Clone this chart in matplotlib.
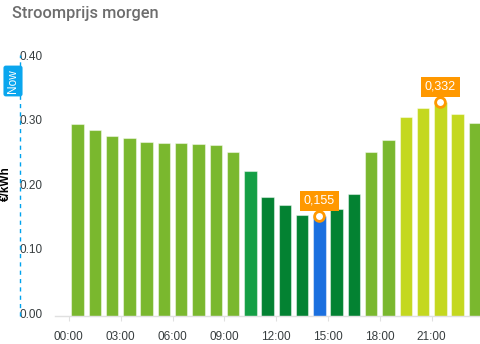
import matplotlib.pyplot as plt
from matplotlib.lines import Line2D
from matplotlib.transforms import ScaledTranslation

# Uurprijzen voor morgen (EUR/kWh), uur 0..23
hours = list(range(24))
prices = [0.298, 0.289, 0.280, 0.276, 0.270, 0.268, 0.268, 0.267, 0.265, 0.255,
          0.225, 0.185, 0.173, 0.157, 0.155, 0.166, 0.189, 0.254, 0.274, 0.309,
          0.323, 0.332, 0.313, 0.299]
tick_hours = [0, 3, 6, 9, 12, 15, 18, 21]
tick_labels = ["00:00", "03:00", "06:00", "09:00", "12:00", "15:00", "18:00", "21:00"]
y_ticks = [0.0, 0.1, 0.2, 0.3, 0.4]
y_tick_labels = ["0.00", "0.10", "0.20", "0.30", "0.40"]


def bar_color(v):
    if v > 0.30:
        return "#c4d81f"
    if v > 0.23:
        return "#7ab82e"
    if v > 0.20:
        return "#149f45"
    return "#038232"


min_idx = prices.index(min(prices))
max_idx = prices.index(max(prices))
colors = [bar_color(v) for v in prices]
colors[min_idx] = "#1a6fdf"

fig = plt.figure(figsize=(4.81, 3.44), dpi=100)
ax = fig.add_axes([55 / 481, 1 - 316 / 344, 1 - 55 / 481, (316 - 58.4) / 344])

x = [h + 0.5 for h in hours]
ax.bar(x, prices, width=0.72, color=colors, edgecolor=(1, 1, 1, 0.45), linewidth=0.8)

ax.set_xlim(-0.8, 23.85)
ax.set_ylim(0, 0.40)

for s in ["top", "right", "left"]:
    ax.spines[s].set_visible(False)
ax.spines["bottom"].set_color("#e0e0e0")
ax.spines["bottom"].set_linewidth(1)

ax.set_xticks(tick_hours)
ax.set_xticklabels(tick_labels, fontsize=8.5, color="#373d3f", family="Liberation Sans")
ax.tick_params(axis="x", length=3.3, color="#e0e0e0", pad=7.5)

ax.set_yticks(y_ticks)
ax.set_yticklabels(y_tick_labels, fontsize=8.5, color="#373d3f", family="Liberation Sans")
ax.tick_params(axis="y", length=0, pad=25.2)
# labels iets boven de waarde, links uitgelijnd
lift = ScaledTranslation(0, 3 / 100, fig.dpi_scale_trans)
for lbl in ax.get_yticklabels():
    lbl.set_horizontalalignment("left")
    lbl.set_verticalalignment("center_baseline")
    lbl.set_transform(lbl.get_transform() + lift)

# markeringen voor laagste en hoogste prijs
for i in (min_idx, max_idx):
    ax.plot(x[i], prices[i], "o", ms=7, mfc="white", mec="#ff9800", mew=2, zorder=5)
    ax.annotate(f"{prices[i]:.3f}".replace(".", ","), (x[i], prices[i]),
                xytext=(0, 11), textcoords="offset points", ha="center", va="center",
                fontsize=9, color="white", family="Liberation Sans",
                bbox=dict(boxstyle="square,pad=0.3", fc="#ff9800", ec="none"), zorder=6)

# eenheid links
fig.text(6 / 481, 1 - 184 / 344, "€/kWh", rotation=90, ha="center", va="center",
         fontsize=8.5, fontweight="bold", color="black", family="Liberation Sans")

# "Now" lijn
fig.add_artist(Line2D([20 / 481, 20 / 481], [1 - 316 / 344, 1 - 55 / 344],
                      color="#00a3ee", lw=1, ls=(0, (3, 3))))
fig.text(13 / 481, 1 - 81 / 344, "Now", rotation=90, ha="center", va="center",
         fontsize=8.5, color="white", family="Liberation Sans",
         bbox=dict(boxstyle="round,pad=0.3,rounding_size=0.2", fc="#0aa6ee", ec="none"))

fig.text(12 / 481, 1 - 18 / 344, "Stroomprijs morgen", ha="left", va="baseline",
         fontsize=11.8, color="#6d6d6d", family="Roboto", fontweight="medium")

fig.savefig("out.png", dpi=100)
